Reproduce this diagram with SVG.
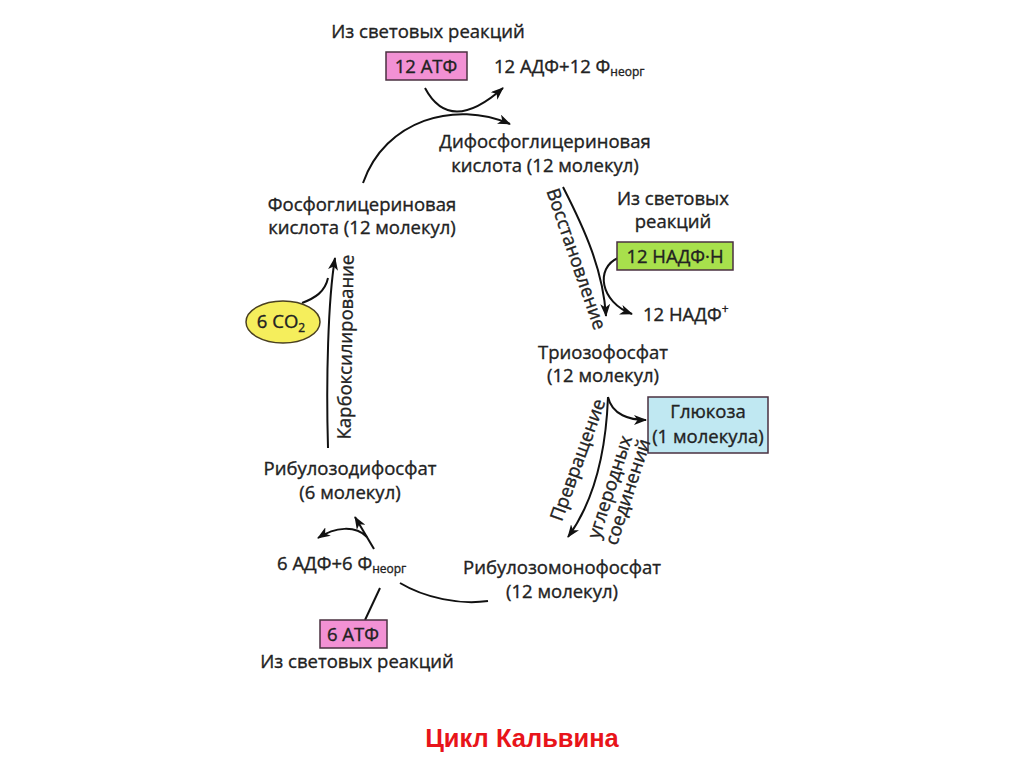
<svg xmlns="http://www.w3.org/2000/svg" width="1024" height="767" viewBox="0 0 1024 767">
<style>
text{font-family:"Open Sans","DejaVu Sans",sans-serif;font-size:18.5px;fill:#222;stroke:#222;stroke-width:0.35}
.c{text-anchor:middle}
.sub{font-size:12px}
.box{stroke:#4a3040;stroke-width:1.5}
.ln{fill:none;stroke:#111;stroke-width:2}
.title{font-family:"Liberation Sans",Arial,sans-serif;font-weight:bold;font-size:25.5px;fill:#e8141a;stroke:none}
</style>
<defs>
<marker id="ah" viewBox="0 0 13 10" refX="12" refY="5" markerWidth="13" markerHeight="10" markerUnits="userSpaceOnUse" orient="auto">
<path d="M0,0 L13,5 L0,10 L3.5,5 z" fill="#111"/>
</marker>
</defs>
<rect width="1024" height="767" fill="#fff"/>

<g id="connectors">
<path class="ln" d="M425,88 Q450,135 503,88" marker-end="url(#ah)"/>
<path class="ln" d="M363,183 C385,120 455,100 510,124" marker-end="url(#ah)"/>
<path class="ln" d="M563,187 C585,230 603,270 606,316" marker-end="url(#ah)"/>
<path class="ln" d="M618,258 C595,268 600,302 632,314" marker-end="url(#ah)"/>
<path class="ln" d="M608,397 C612,415 630,420 646,420" marker-end="url(#ah)"/>
<path class="ln" d="M608,397 C606,450 595,500 568,537" marker-end="url(#ah)"/>
<path class="ln" d="M328,448 C326,380 328,300 335,258" marker-end="url(#ah)"/>
<path class="ln" d="M302,303 C315,298 325,292 328,278"/>
<path class="ln" d="M488,601 C460,605 425,598 400,583"/>
<path class="ln" d="M365,620 L380,588"/>
<path class="ln" d="M374,549 L355,517" marker-end="url(#ah)"/>
<path class="ln" d="M367,537 C355,525 335,527 318,538" marker-end="url(#ah)"/>
</g>

<g id="top-source">
<text class="c" x="428" y="38">Из световых реакций</text>
</g>
<g id="atp12">
<rect class="box" x="386" y="52" width="81" height="28" fill="#f291d4"/>
<text class="c" x="426" y="73">12 АТФ</text>
</g>
<g id="adp12">
<text x="494" y="73">12 АДФ+12 Ф<tspan class="sub" dy="3">неорг</tspan></text>
</g>
<g id="dpga">
<text class="c" x="545" y="148">Дифосфоглицериновая</text>
<text class="c" x="545" y="172">кислота (12 молекул)</text>
</g>
<g id="pga">
<text class="c" x="362" y="211">Фосфоглицериновая</text>
<text class="c" x="362" y="234">кислота (12 молекул)</text>
</g>
<g id="reduction-label">
<text class="c" transform="translate(576,259) rotate(71)" y="6">Восстановление</text>
</g>
<g id="nadph-source">
<text class="c" x="673" y="205">Из световых</text>
<text class="c" x="673" y="228">реакций</text>
</g>
<g id="nadph">
<rect class="box" x="617" y="242" width="116" height="28" fill="#a8e04c"/>
<text class="c" x="675" y="263">12 НАДФ·Н</text>
</g>
<g id="nadp">
<text x="643" y="321">12 НАДФ<tspan class="sub" dy="-8">+</tspan></text>
</g>
<g id="triose">
<text class="c" x="603" y="359">Триозофосфат</text>
<text class="c" x="603" y="382">(12 молекул)</text>
</g>
<g id="glucose">
<rect class="box" x="648" y="397" width="120" height="56" fill="#c0e8f2"/>
<text class="c" x="708" y="418">Глюкоза</text>
<text class="c" x="708" y="443">(1 молекула)</text>
</g>
<g id="conversion-label">
<text class="c" transform="translate(578,460) rotate(-70)" y="6">Превращение</text>
<text class="c" transform="translate(610,487) rotate(-72)" y="6">углеродных</text>
<text class="c" transform="translate(628,492) rotate(-72)" y="6">соединений</text>
</g>
<g id="rump">
<text class="c" x="562" y="574">Рибулозомонофосфат</text>
<text class="c" x="562" y="598">(12 молекул)</text>
</g>
<g id="adp6">
<text x="277" y="570">6 АДФ+6 Ф<tspan class="sub" dy="3">неорг</tspan></text>
</g>
<g id="atp6">
<rect class="box" x="320" y="620" width="67" height="28" fill="#f291d4"/>
<text class="c" x="353" y="641">6 АТФ</text>
</g>
<g id="bottom-source">
<text class="c" x="357" y="668">Из световых реакций</text>
</g>
<g id="rudp">
<text class="c" x="350" y="475">Рибулозодифосфат</text>
<text class="c" x="350" y="499">(6 молекул)</text>
</g>
<g id="carboxylation-label">
<text class="c" transform="translate(346,347) rotate(-89)" y="6">Карбоксилирование</text>
</g>
<g id="co2">
<ellipse cx="283" cy="322" rx="37" ry="21" fill="#f5ee5c" stroke="#4a4020" stroke-width="1.5"/>
<text class="c" x="281" y="328">6 CO<tspan class="sub" dy="4">2</tspan></text>
</g>
<g id="title">
<text class="title c" x="522" y="747">Цикл Кальвина</text>
</g>
</svg>
